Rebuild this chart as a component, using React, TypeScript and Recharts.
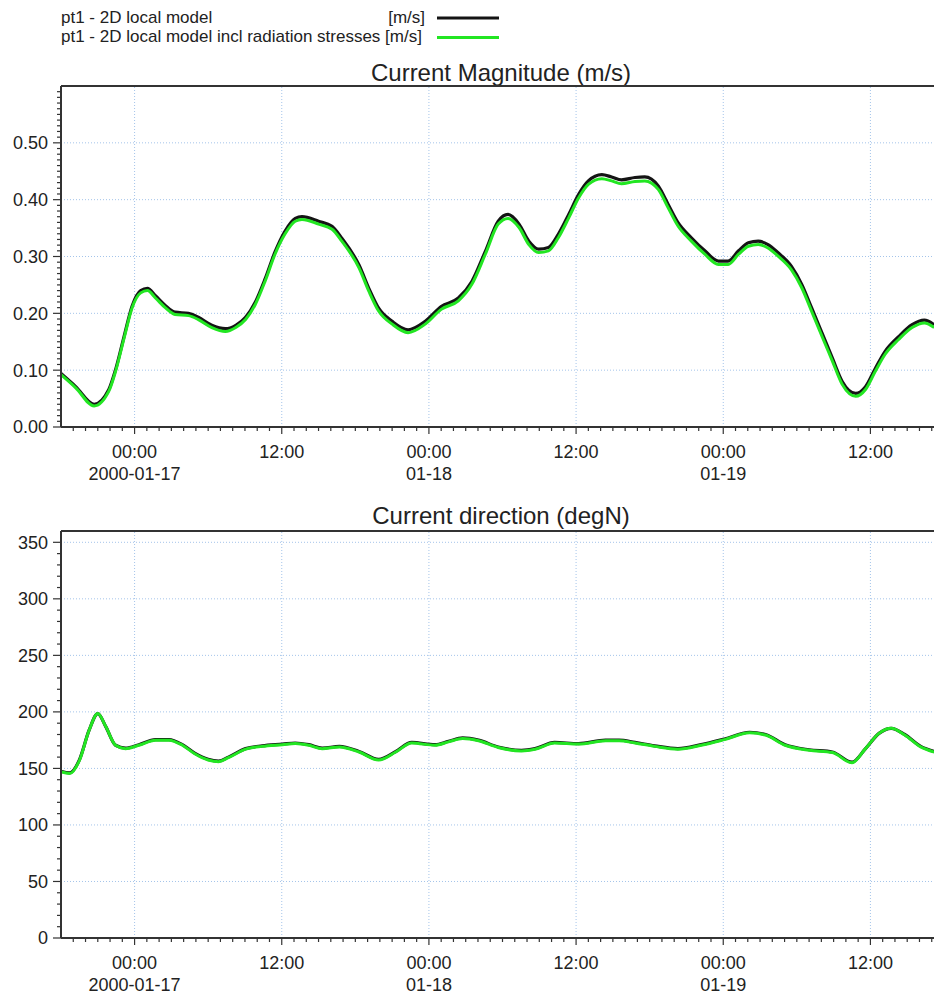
import * as React from "react";
import { LineChart, Line, XAxis, YAxis, ReferenceLine } from "recharts";

// ─── Series: hours since 2000-01-17 00:00 ─────────────────────────────────

const magHours = [
	-6, -4.8, -3.3, -2.1, -1.55, -0.85, -0.2, 0.5, 1.05, 1.7, 2.5, 3.3, 4.4, 5.2,
	6.3, 7.4, 8.25, 9.05, 9.85, 10.65, 11.45, 12.25, 13.1, 13.65, 15.0, 16.1,
	16.9, 18.3, 19.1, 19.9, 21.0, 22.3, 23.7, 25.0, 26.4, 27.5, 28.6, 29.65,
	30.45, 31.35, 32.15, 32.95, 33.75, 34.55, 35.4, 36.2, 37.0, 38.1, 38.9, 39.7,
	40.8, 41.6, 42.7, 43.5, 44.3, 45.4, 46.5, 47.6, 48.4, 49.25, 50.05, 50.85,
	51.65, 52.45, 53.55, 54.4, 55.2, 56.1, 56.9, 57.7, 58.8, 59.6, 60.4, 61.2,
	62.3, 63.4, 64.4, 65.2,
];

const magLocal = [
	0.094, 0.071, 0.04, 0.066, 0.101, 0.16, 0.213, 0.24, 0.244, 0.231, 0.214,
	0.202, 0.2, 0.193, 0.179, 0.173, 0.179, 0.193, 0.22, 0.261, 0.308, 0.344,
	0.367, 0.37, 0.362, 0.353, 0.332, 0.285, 0.244, 0.209, 0.186, 0.171, 0.186,
	0.212, 0.227, 0.256, 0.309, 0.362, 0.374, 0.357, 0.327, 0.313, 0.316, 0.339,
	0.374, 0.409, 0.433, 0.444, 0.44, 0.435, 0.439, 0.44, 0.424, 0.392, 0.36,
	0.333, 0.31, 0.292, 0.292, 0.31, 0.324, 0.327, 0.321, 0.307, 0.283, 0.251,
	0.21, 0.163, 0.121, 0.08, 0.059, 0.071, 0.103, 0.133, 0.159, 0.18, 0.188,
	0.18,
];

const magRadiation = [
	0.092, 0.069, 0.037, 0.063, 0.098, 0.157, 0.21, 0.236, 0.24, 0.227, 0.21,
	0.198, 0.196, 0.189, 0.175, 0.168, 0.175, 0.189, 0.216, 0.257, 0.304, 0.339,
	0.362, 0.365, 0.357, 0.348, 0.327, 0.28, 0.239, 0.204, 0.181, 0.166, 0.181,
	0.207, 0.222, 0.251, 0.304, 0.357, 0.367, 0.351, 0.321, 0.307, 0.31, 0.333,
	0.368, 0.403, 0.427, 0.437, 0.433, 0.428, 0.432, 0.433, 0.418, 0.386, 0.354,
	0.327, 0.304, 0.286, 0.286, 0.304, 0.318, 0.321, 0.315, 0.301, 0.277, 0.245,
	0.204, 0.157, 0.116, 0.075, 0.054, 0.066, 0.098, 0.128, 0.154, 0.175, 0.183,
	0.175,
];

const dirHours = [
	-6, -5.3, -4.5, -3.7, -3.0, -2.35, -1.55, -0.75, 0.35, 1.7, 2.8, 3.9, 4.9,
	6.0, 6.85, 7.65, 9.05, 10.4, 12.05, 13.1, 14.2, 15.3, 16.7, 18.3, 19.9, 21.3,
	22.6, 24.5, 25.6, 26.75, 28.05, 29.65, 31.55, 32.65, 34.25, 36.2, 38.4, 39.5,
	40.8, 42.4, 44.3, 46.2, 48.1, 50.15, 51.45, 53.05, 55.0, 56.9, 58.5, 59.6,
	60.7, 61.7, 62.8, 64.1, 65.2,
];

const dirLocal = [
	147.5, 146, 157.5, 184, 198.5, 187, 170.5, 168, 171, 175.5, 175.5, 171, 163.5,
	158, 156.5, 160, 167.5, 170, 171.5, 172.5, 171, 168, 169.5, 165, 158, 165,
	173, 171, 174, 177, 175, 169, 166, 167.5, 173, 172, 175, 175, 173, 170, 167.5,
	171, 176, 182, 180, 171, 166.5, 164.5, 155.5, 167.5, 181, 185.5, 180, 169.5,
	165,
];

const dirRadiation = [
	147, 145.5, 157, 184, 198.5, 187, 170.5, 167.5, 170.5, 175, 175, 170.5, 163,
	157.5, 156, 159.5, 167, 169.5, 171, 172, 170.5, 167.5, 169, 164.5, 157.5,
	164.5, 172.5, 170.5, 173.5, 176.5, 174.5, 168.5, 165.5, 167, 172.5, 171.5,
	174.5, 174.5, 172.5, 169.5, 167, 170.5, 175.5, 181.5, 179.5, 170.5, 166,
	164, 155, 167.5, 181, 185.5, 179.5, 169, 164.5,
];

// ─── Axis ticks ───────────────────────────────────────────────────────────

const timeTicks = [0, 12, 24, 36, 48, 60];
const timeLabels = ["00:00", "12:00", "00:00", "12:00", "00:00", "12:00"];
const dateLabels = ["2000-01-17", "", "01-18", "", "01-19", ""];

const magTicks = [0, 0.1, 0.2, 0.3, 0.4, 0.5];
const magLabels = ["0.00", "0.10", "0.20", "0.30", "0.40", "0.50"];

const dirTicks = [0, 50, 100, 150, 200, 250, 300, 350];
const dirLabels = ["0", "50", "100", "150", "200", "250", "300", "350"];

// minor ticks: one per hour, 0.01 m/s and 10 deg
const hourTicks = Array.from({ length: 71 }, (_, i) => i - 5);
const magMinorTicks = Array.from({ length: 60 }, (_, i) => i / 100);
const dirMinorTicks = Array.from({ length: 36 }, (_, i) => i * 10);

// ─── Styles ───────────────────────────────────────────────────────────────

const FONT = "'Liberation Sans', Arial, sans-serif";
const AXIS = "#333333";
const GRID = "#a4c4ea";
const BLACK = "#141414";
const GREEN = "#22e622";

const magData = magHours.map((h, i) => ({
	h,
	local: magLocal[i],
	rad: magRadiation[i],
}));

const dirData = dirHours.map((h, i) => ({
	h,
	local: dirLocal[i],
	rad: dirRadiation[i],
}));

// ─── Tick renderers ───────────────────────────────────────────────────────

function TimeTick(props: any) {
	const { x, y, payload } = props;
	const idx = timeTicks.indexOf(payload.value);
	const major = idx >= 0;
	return (
		<g>
			<line
				x1={x}
				x2={x}
				y1={y}
				y2={y + (major ? 7 : 4)}
				stroke={AXIS}
				strokeWidth={1.2}
			/>
			{major && (
				<text
					x={x}
					y={y + 31}
					textAnchor="middle"
					fontSize={18}
					fontFamily={FONT}
					fill="#222"
				>
					{timeLabels[idx]}
				</text>
			)}
			{major && dateLabels[idx] && (
				<text
					x={x}
					y={y + 53}
					textAnchor="middle"
					fontSize={18}
					fontFamily={FONT}
					fill="#222"
				>
					{dateLabels[idx]}
				</text>
			)}
		</g>
	);
}

function makeValueTick(majors: number[], labels: string[]) {
	return function ValueTick(props: any) {
		const { x, y, payload } = props;
		const idx = majors.findIndex((t) => Math.abs(t - payload.value) < 1e-6);
		const major = idx >= 0;
		return (
			<g>
				<line
					x1={x - (major ? 8 : 4)}
					x2={x}
					y1={y}
					y2={y}
					stroke={AXIS}
					strokeWidth={1.2}
				/>
				{major && (
					<text
						x={x - 13}
						y={y}
						dy="0.36em"
						textAnchor="end"
						fontSize={18}
						fontFamily={FONT}
						fill="#222"
					>
						{labels[idx]}
					</text>
				)}
			</g>
		);
	};
}

const MagTick = makeValueTick(magTicks, magLabels);
const DirTick = makeValueTick(dirTicks, dirLabels);

// ─── One time-series panel ────────────────────────────────────────────────

function Panel(props: {
	data: { h: number; local: number; rad: number }[];
	height: number;
	top: number;
	xAxisHeight: number;
	yMax: number;
	yMajor: number[];
	yMinor: number[];
	yTick: (p: any) => React.ReactElement;
}) {
	const { data, height, top, xAxisHeight, yMax, yMajor, yMinor, yTick } = props;
	return (
		<LineChart
			width={1000}
			height={height}
			data={data}
			margin={{ top, right: 56, bottom: 0, left: 0 }}
		>
			{yMajor.map((v) => (
				<ReferenceLine
					key={"gy" + v}
					y={v}
					stroke={GRID}
					strokeWidth={1}
					strokeDasharray="1 2"
				/>
			))}
			{timeTicks.map((v) => (
				<ReferenceLine
					key={"gx" + v}
					x={v}
					stroke={GRID}
					strokeWidth={1}
					strokeDasharray="1 2"
				/>
			))}
			<XAxis
				type="number"
				dataKey="h"
				domain={[-6, 66]}
				ticks={hourTicks}
				interval={0}
				height={xAxisHeight}
				tickSize={0}
				tickMargin={0}
				tickLine={false}
				axisLine={{ stroke: AXIS, strokeWidth: 2 }}
				tick={TimeTick}
			/>
			<YAxis
				type="number"
				domain={[0, yMax]}
				ticks={yMinor}
				interval={0}
				width={61}
				tickSize={0}
				tickMargin={0}
				tickLine={false}
				axisLine={{ stroke: AXIS, strokeWidth: 2 }}
				tick={yTick}
			/>
			<ReferenceLine y={yMax} stroke={AXIS} strokeWidth={2} />
			<Line
				dataKey="local"
				type="monotone"
				stroke={BLACK}
				strokeWidth={3.2}
				dot={false}
				isAnimationActive={false}
			/>
			<Line
				dataKey="rad"
				type="monotone"
				stroke={GREEN}
				strokeWidth={3}
				dot={false}
				isAnimationActive={false}
			/>
		</LineChart>
	);
}

export default function App() {
	return (
		<div
			style={{
				position: "absolute",
				left: 0,
				top: 0,
				width: 934,
				height: 996,
				overflow: "hidden",
				background: "#fff",
				fontFamily: FONT,
			}}
		>
			<svg
				width={934}
				height={996}
				style={{ position: "absolute", left: 0, top: 0, pointerEvents: "none" }}
			>
				<g fontFamily={FONT} fontSize={17} fill="#222">
					<text x={61} y={23}>
						pt1 - 2D local model
					</text>
					<text x={425} y={23} textAnchor="end">
						[m/s]
					</text>
					<text x={61} y={42}>
						pt1 - 2D local model incl radiation stresses [m/s]
					</text>
				</g>
				<line x1={437} x2={499} y1={18} y2={18} stroke={BLACK} strokeWidth={3} />
				<line x1={437} x2={499} y1={37.5} y2={37.5} stroke={GREEN} strokeWidth={3} />
				<text
					x={501}
					y={81}
					textAnchor="middle"
					fontFamily={FONT}
					fontSize={24}
					fill="#222"
				>
					Current Magnitude (m/s)
				</text>
				<text
					x={501}
					y={524}
					textAnchor="middle"
					fontFamily={FONT}
					fontSize={24}
					fill="#222"
				>
					Current direction (degN)
				</text>
			</svg>
			<div style={{ position: "absolute", left: 0, top: 0 }}>
				<Panel
					data={magData}
					height={496}
					top={86}
					xAxisHeight={69}
					yMax={0.6}
					yMajor={magTicks}
					yMinor={magMinorTicks}
					yTick={MagTick}
				/>
			</div>
			<div style={{ position: "absolute", left: 0, top: 496 }}>
				<Panel
					data={dirData}
					height={500}
					top={35}
					xAxisHeight={58}
					yMax={360}
					yMajor={dirTicks}
					yMinor={dirMinorTicks}
					yTick={DirTick}
				/>
			</div>
		</div>
	);
}
